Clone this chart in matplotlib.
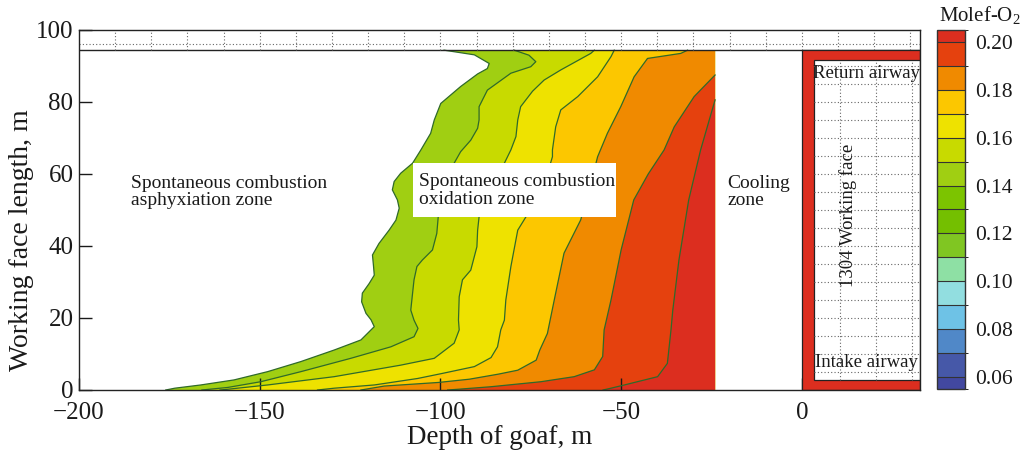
import numpy as np
import matplotlib
matplotlib.use("Agg")
import matplotlib.pyplot as plt
from matplotlib.colors import ListedColormap, BoundaryNorm
import matplotlib.colorbar as mcolorbar
from matplotlib.patches import Rectangle

plt.rcParams['font.family'] = ['Liberation Serif', 'DejaVu Serif']
plt.rcParams['mathtext.fontset'] = 'custom'
plt.rcParams['mathtext.rm'] = 'Liberation Serif'
plt.rcParams['mathtext.it'] = 'Liberation Serif:italic'

# ---------------- data ----------------
# O2 mole-fraction contour levels drawn in the goaf
levels = [0.14, 0.15, 0.16, 0.17, 0.18, 0.19, 0.20]
band_colors = ['#A0CF12', '#C8DA00', '#EEE200', '#FCC700', '#F08A00', '#E5410E', '#DC2E1F']

# contour lines: depth of goaf (x, m) vs working face length (y, m)
c014_y = [0.0, 0.5, 1.4, 2.8, 5.1, 7.9, 11.1, 13.9, 15.7, 17.6, 19.5, 21.3, 24.5, 26.9, 29.6, 31.9, 34.3,
          37.5, 40.7, 44.4, 47.2, 50.5, 52.8, 55.6, 57.9, 60.2, 63.0, 66.7, 71.3, 75.0, 79.6, 84.3, 87.8,
          89.3, 90.7, 93.1, 94.4]
c014_x = [-176.0, -173.5, -166.3, -157.1, -147.8, -138.6, -129.4, -122.0, -120.2, -118.3, -119.2, -120.6,
          -121.8, -121.6, -119.7, -118.3, -118.5, -118.8, -117.0, -114.2, -112.3, -111.4, -111.9, -113.3,
          -112.8, -111.0, -107.7, -105.4, -102.7, -101.7, -99.9, -94.4, -89.7, -87.0, -86.5, -90.6, -99.0]

c015_y = [0.0, 0.7, 2.3, 5.1, 8.8, 12.0, 14.8, 17.1, 19.4, 22.2, 26.9, 30.6, 34.3, 36.1, 38.9, 43.5, 48.1,
          53.7, 58.8, 63.0, 66.2, 69.4, 72.7, 75.0, 78.7, 83.3, 88.0, 89.8, 91.2, 93.0, 94.4]
c015_x = [-166.0, -158.9, -149.7, -138.6, -124.8, -113.7, -107.3, -106.2, -107.3, -108.2, -107.7, -107.3,
          -106.5, -105.0, -102.2, -101.0, -100.6, -99.9, -98.5, -96.2, -94.4, -91.6, -89.7, -89.3, -89.3,
          -87.0, -80.5, -75.0, -73.6, -75.5, -79.6]

c016_y = [0.0, 0.2, 1.4, 3.7, 6.9, 8.8, 13.0, 16.7, 19.4, 25.9, 30.6, 33.3, 39.8, 44.4, 48.1, 55.0, 63.0,
          66.7, 70.4, 75.0, 78.7, 83.0, 86.1, 88.9, 93.5, 94.4]
c016_x = [-161.0, -158.9, -147.8, -129.4, -111.0, -101.7, -96.2, -94.8, -95.0, -94.8, -93.9, -91.6, -89.9,
          -89.7, -89.3, -86.0, -82.3, -80.5, -79.1, -78.6, -77.8, -74.5, -71.3, -66.7, -58.4, -57.4]

c017_y = [0.0, 0.5, 1.4, 3.2, 4.6, 6.5, 9.0, 12.0, 16.7, 19.4, 25.0, 34.3, 44.4, 51.9, 58.0, 64.8, 66.7,
          73.1, 77.8, 81.5, 87.0, 92.6, 94.4]
c017_x = [-134.0, -129.4, -118.3, -106.3, -99.5, -90.6, -86.0, -84.2, -83.3, -82.3, -81.9, -80.5, -78.6,
          -74.0, -71.0, -69.0, -69.0, -68.1, -66.7, -62.0, -56.5, -52.8, -51.9]

c018_y = [0.0, 1.1, 2.1, 3.0, 4.4, 5.5, 8.3, 11.1, 15.7, 25.0, 38.0, 47.2, 55.0, 64.8, 71.3, 78.7, 87.0,
          92.1, 93.5, 94.4]
c018_x = [-122.0, -115.5, -100.5, -92.0, -84.0, -78.6, -73.5, -72.5, -70.4, -68.5, -65.8, -61.2, -59.0,
          -56.5, -53.8, -50.1, -46.4, -42.7, -33.5, -31.6]

c019_y = [0.0, 0.2, 0.9, 2.3, 3.7, 5.6, 9.3, 16.7, 25.0, 38.9, 52.8, 60.0, 66.7, 73.1, 81.5, 87.5]
c019_x = [-98.0, -95.2, -86.1, -72.2, -63.0, -57.4, -55.1, -54.7, -52.8, -50.0, -46.5, -42.5, -38.1, -35.3,
          -29.8, -24.0]

c020_y = [0.0, 0.5, 1.4, 3.7, 7.4, 16.7, 22.2, 36.1, 52.8, 66.7, 80.6]
c020_x = [-55.0, -52.8, -49.1, -39.9, -37.2, -36.2, -35.7, -34.0, -31.3, -28.0, -24.0]

contour_x = [c014_x, c015_x, c016_x, c017_x, c018_x, c019_x, c020_x]
contour_y = [c014_y, c015_y, c016_y, c017_y, c018_y, c019_y, c020_y]

# colour bar (Molef-O2) boundaries and colours, bottom to top
cbar_bounds = [0.055, 0.06, 0.07, 0.08, 0.09, 0.10, 0.11, 0.12, 0.13, 0.14, 0.15, 0.16, 0.17, 0.18, 0.19,
               0.20, 0.205]
cbar_colors = ['#4248A0', '#4658A8', '#5088C8', '#6EC2E6', '#92DEE0', '#8EE0A4', '#80C622', '#74BF00',
               '#7CC400', '#A0CF12', '#C8DA00', '#EEE200', '#FCC700', '#F08A00', '#E5410E', '#DC2E1F']
cbar_ticks = [0.06, 0.08, 0.10, 0.12, 0.14, 0.16, 0.18, 0.20]

x_ticks = [-200, -150, -100, -50, 0]
y_ticks = [0, 20, 40, 60, 80, 100]

# geometry of the model (m)
goaf_top = 94.4
cool_left = -24.0
face_right = 32.7
face_inner_left = 3.4
intake_top = 2.8
return_bottom = 91.7

# ---------------- figure ----------------
W, H = 1026, 459
fig = plt.figure(figsize=(W / 100, H / 100), dpi=100)
ax = fig.add_axes([79 / W, 1 - 390 / H, (920 - 79) / W, 360 / H])
ax.set_xlim(-200, face_right)
ax.set_ylim(0, 100)

line_col = '#2F6A2A'
for xs, ys, col in zip(contour_x, contour_y, band_colors):
    px = list(xs) + [cool_left, cool_left]
    py = list(ys) + [ys[-1], 0.0]
    ax.fill(px, py, color=col, lw=0, zorder=1)
for xs, ys in zip(contour_x, contour_y):
    ax.plot(xs, ys, color=line_col, lw=0.9, zorder=2)

# goaf upper boundary and top strip with dotted grid
ax.axhline(goaf_top, color='#222222', lw=1.0, zorder=3)
ax.axhline(96.1, color='#666666', lw=0.8, ls=(0, (1, 2)), zorder=3)
ax.vlines(np.arange(-190, 31, 10), goaf_top, 100, colors='#666666', lw=0.8,
          linestyles=[(0, (1, 2))], zorder=3)

# working face: red frame with inner box
ax.add_patch(Rectangle((0, 0), face_right, goaf_top, facecolor='#DC2E1F', edgecolor='#222222',
                       lw=0.9, zorder=3))
ax.add_patch(Rectangle((face_inner_left, intake_top), face_right - face_inner_left,
                       return_bottom - intake_top, facecolor='white', edgecolor='#222222',
                       lw=0.9, zorder=4))
ax.hlines(np.arange(5, 91, 5), face_inner_left, face_right, colors='#666666', lw=0.8,
          linestyles=[(0, (1, 2))], zorder=4)
ax.vlines([10.5, 20.5, 30.5], intake_top, return_bottom, colors='#666666', lw=0.8,
          linestyles=[(0, (1, 2))], zorder=4)

# annotations
fs = 14
ax.text(-185.7, 55, 'Spontaneous combustion\nasphyxiation zone', fontsize=fs, ha='left',
        va='center', linespacing=1.05, color='#1a1a1a', zorder=6)
ax.add_patch(Rectangle((-107.6, 48.0), 56.1, 15.0, facecolor='white', edgecolor='none', zorder=5))
ax.text(-106.0, 55.5, 'Spontaneous combustion\noxidation zone', fontsize=fs, ha='left',
        va='center', linespacing=1.05, color='#1a1a1a', zorder=6)
ax.text(-20.7, 55, 'Cooling\nzone', fontsize=fs, ha='left', va='center', linespacing=1.05,
        color='#1a1a1a', zorder=6)
ax.text(3.2, 88.0, 'Return airway', fontsize=13.5, ha='left', va='center', color='#1a1a1a', zorder=6)
ax.text(3.6, 7.6, 'Intake airway', fontsize=13.5, ha='left', va='center', color='#1a1a1a', zorder=6)
ax.text(12.8, 48.6, '1304 Working face', fontsize=13.5, ha='center', va='center', rotation=90,
        color='#1a1a1a', zorder=6)

# axes styling
ax.set_xticks(x_ticks)
ax.set_yticks(y_ticks)
ax.set_xticklabels(['\u2212200', '\u2212150', '\u2212100', '\u221250', '0'])
ax.tick_params(direction='in', length=9, width=1.0, labelsize=18, colors='#1a1a1a',
               top=False, right=False, pad=4)
ax.tick_params(axis='x', pad=8.5)
for sp in ax.spines.values():
    sp.set_linewidth(1.0)
    sp.set_color('#222222')
    sp.set_zorder(7)
ax.set_xlabel('Depth of goaf, m', fontsize=19.5, labelpad=1, color='#1a1a1a')
ax.set_ylabel('Working face length, m', fontsize=20, color='#1a1a1a')
ax.yaxis.set_label_coords(-45 / 841, 0.417)

# colour bar
cax = fig.add_axes([937 / W, 1 - 389 / H, 28 / W, 359 / H])
cmap = ListedColormap(cbar_colors)
norm = BoundaryNorm(cbar_bounds, cmap.N)
cb = mcolorbar.ColorbarBase(cax, cmap=cmap, norm=norm, boundaries=cbar_bounds,
                            spacing='proportional', ticks=cbar_ticks, drawedges=True)
cb.set_ticklabels(['%.2f' % t for t in cbar_ticks])
cb.dividers.set_color('#333333')
cb.dividers.set_linewidth(0.8)
cb.outline.set_linewidth(1.0)
cb.outline.set_edgecolor('#333333')
cax.tick_params(length=0, labelsize=15.5, pad=7, colors='#1a1a1a')
fig.text(980 / W, 1 - 15 / H, 'Molef-O$_2$', fontsize=15, ha='center', va='center', color='#1a1a1a')

fig.savefig('out.png', dpi=100)
